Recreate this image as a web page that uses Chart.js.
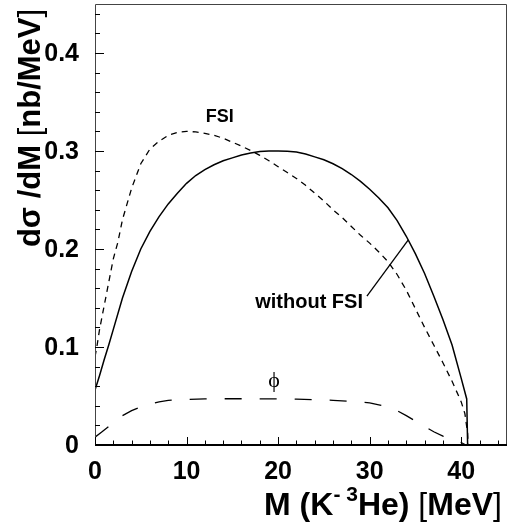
<!DOCTYPE html>
<html>
<head>
<meta charset="utf-8">
<script src="https://cdn.jsdelivr.net/npm/chart.js@4.4.0/dist/chart.umd.min.js"></script>
<style>
  body { margin: 0; background: #fff; }
  #chart { display: block; }
</style>
</head>
<body>
<canvas id="chart" width="515" height="522"></canvas>
<script>
// Curve without final state interaction (solid)
const massNoFsi = [0, 0.5, 1, 1.5, 2, 3, 4, 5, 6, 7, 8, 9, 10, 11, 12, 13, 14, 15, 16, 17, 18, 19, 20,
  21, 22, 23, 24, 25, 26, 27, 28, 29, 30, 31, 32, 33, 34, 35, 36, 37, 38, 39, 40, 40.6, 40.7];
const sigmaNoFsi = [0.056, 0.071, 0.087, 0.102, 0.118, 0.150, 0.177, 0.200, 0.218, 0.233, 0.246, 0.257, 0.267,
  0.275, 0.281, 0.286, 0.290, 0.293, 0.296, 0.298, 0.2995, 0.300, 0.300,
  0.2998, 0.299, 0.297, 0.294, 0.291, 0.287, 0.282, 0.276, 0.269, 0.261, 0.252, 0.242, 0.229, 0.213,
  0.195, 0.175, 0.152, 0.128, 0.102, 0.068, 0.047, 0];

// Curve with FSI (short dashes)
const massFsi = [0, 0.2, 0.5, 1, 1.5, 2, 2.5, 3, 4, 5, 6, 7, 8, 9, 10, 11, 12, 13, 14, 15, 16, 17, 18,
  19, 20, 21, 22, 23, 24, 25, 26, 27, 28, 29, 30, 31, 32, 33, 34, 35, 36, 37, 38, 39, 40, 40.4, 40.7, 40.75];
const sigmaFsi = [0.09, 0.1, 0.118, 0.142, 0.166, 0.19, 0.207, 0.23, 0.262, 0.287, 0.302, 0.31, 0.316, 0.319,
  0.32, 0.3195, 0.318, 0.316, 0.313, 0.309, 0.305, 0.3005, 0.2956, 0.290, 0.284, 0.278, 0.272, 0.265,
  0.257, 0.249, 0.240, 0.232, 0.223, 0.214, 0.206, 0.197, 0.187, 0.174, 0.158, 0.139, 0.12, 0.102,
  0.084, 0.065, 0.044, 0.032, 0.012, 0];

// phi contribution (long dashes)
const massPhi = [0, 0.7, 1.5, 2.4, 3, 4, 5, 6, 7, 8, 9, 10, 12, 14, 16, 18, 20, 22, 24, 26, 28, 30,
  31, 32, 33, 34, 35, 36, 37, 38, 39, 40, 40.5];
const sigmaPhi = [0.008, 0.013, 0.019, 0.025, 0.03, 0.035, 0.039, 0.042, 0.044, 0.0455, 0.046, 0.0465,
  0.047, 0.0472, 0.0472, 0.0471, 0.047, 0.0468, 0.0463, 0.0456, 0.0445, 0.043, 0.041, 0.039, 0.035,
  0.03, 0.0245, 0.019, 0.0135, 0.009, 0.0055, 0.0025, 0];

const xTicks = [0, 10, 20, 30, 40];
const yTicks = [0, 0.1, 0.2, 0.3, 0.4];

const toPoints = (xs, ys) => xs.map((x, i) => ({ x, y: ys[i] }));

const sansBold = (size) => `bold ${size}px "Liberation Sans", Arial, sans-serif`;
const sansNormal = (size) => `${size}px "Liberation Sans", Arial, sans-serif`;

// draw a row of text pieces, each with its own font and raise
function drawPieces(ctx, pieces, cx, baseline) {
  let total = 0;
  pieces.forEach(p => { ctx.font = p.font; p.w = ctx.measureText(p.text).width; total += p.w; });
  let x = cx - total / 2;
  ctx.textAlign = 'left';
  ctx.textBaseline = 'alphabetic';
  pieces.forEach(p => {
    ctx.font = p.font;
    ctx.fillText(p.text, x, baseline - (p.raise || 0));
    x += p.w;
  });
}

const framePlugin = {
  id: 'frame',
  afterDraw(chart) {
    const { ctx, chartArea: a, scales } = chart;
    const xs = scales.x, ys = scales.y;
    ctx.save();

    // frame
    ctx.lineWidth = 1;
    ctx.strokeStyle = '#444';
    ctx.beginPath();
    ctx.moveTo(a.left + 0.5, a.bottom);
    ctx.lineTo(a.left + 0.5, a.top + 0.5);
    ctx.lineTo(a.right - 0.5, a.top + 0.5);
    ctx.lineTo(a.right - 0.5, a.bottom);
    ctx.stroke();
    ctx.strokeStyle = '#000';
    ctx.lineWidth = 2;
    ctx.beginPath();
    ctx.moveTo(a.left, a.bottom);
    ctx.lineTo(a.right, a.bottom);
    ctx.stroke();

    // ticks inside the frame
    ctx.lineWidth = 1;
    ctx.beginPath();
    for (let i = 0; i <= 22; i++) {
      const v = i * 2;
      const px = Math.round(xs.getPixelForValue(v)) + 0.5;
      const len = (v % 10 === 0) ? 8 : 4.5;
      ctx.moveTo(px, a.bottom);
      ctx.lineTo(px, a.bottom - len);
    }
    for (let i = 0; i <= 22; i++) {
      const v = i * 0.02;
      const py = Math.round(ys.getPixelForValue(v)) + 0.5;
      const len = (i % 5 === 0) ? 9 : 5;
      ctx.moveTo(a.left, py);
      ctx.lineTo(a.left + len, py);
    }
    ctx.stroke();

    // annotations
    ctx.fillStyle = '#000';
    ctx.textAlign = 'left';
    ctx.textBaseline = 'alphabetic';
    ctx.font = sansBold(18);
    ctx.fillText('FSI', xs.getPixelForValue(12.1), ys.getPixelForValue(0.3296));
    ctx.font = sansBold(20);
    ctx.fillText('without FSI', xs.getPixelForValue(17.5), ys.getPixelForValue(0.1395));

    ctx.lineWidth = 1.3;
    ctx.beginPath();
    ctx.moveTo(xs.getPixelForValue(29.7), ys.getPixelForValue(0.152));
    ctx.lineTo(xs.getPixelForValue(34.2), ys.getPixelForValue(0.209));
    ctx.stroke();

    ctx.font = '22px "Liberation Serif", "DejaVu Serif", serif';
    ctx.textAlign = 'center';
    ctx.textBaseline = 'middle';
    ctx.fillText('\u03D5', xs.getPixelForValue(19.56), ys.getPixelForValue(0.065));

    // x title
    drawPieces(ctx, [
      { text: 'M (K', font: sansBold(32) },
      { text: '-', font: sansBold(21), raise: 14 },
      { text: ' ', font: sansBold(21) },
      { text: '3', font: sansBold(21), raise: 14 },
      { text: 'He) ', font: sansBold(32) },
      { text: '[', font: sansNormal(32) },
      { text: 'MeV', font: sansBold(32) },
      { text: ']', font: sansNormal(32) }
    ], 383, 515);

    // y title
    ctx.translate(40, 128);
    ctx.rotate(-Math.PI / 2);
    drawPieces(ctx, [
      { text: 'd\u03C3 /dM ', font: sansBold(31) },
      { text: '[', font: sansNormal(31) },
      { text: 'nb/MeV', font: sansBold(31) },
      { text: ']', font: sansNormal(31) }
    ], 0, 0);
    ctx.restore();
  }
};

new Chart(document.getElementById('chart'), {
  type: 'scatter',
  data: {
    datasets: [
      {
        label: 'without FSI',
        data: toPoints(massNoFsi, sigmaNoFsi),
        showLine: true,
        borderColor: '#000',
        borderWidth: 1.5,
        pointRadius: 0,
        tension: 0
      },
      {
        label: 'FSI',
        data: toPoints(massFsi, sigmaFsi),
        showLine: true,
        borderColor: '#000',
        borderWidth: 1.3,
        borderDash: [6, 5],
        pointRadius: 0,
        tension: 0
      },
      {
        label: 'phi',
        data: toPoints(massPhi, sigmaPhi),
        showLine: true,
        borderColor: '#000',
        borderWidth: 1.3,
        borderDash: [17, 18],
        pointRadius: 0,
        tension: 0
      }
    ]
  },
  options: {
    responsive: false,
    animation: false,
    layout: { padding: { top: 4, right: 8, left: 0, bottom: 0 } },
    plugins: { legend: { display: false }, tooltip: { enabled: false } },
    scales: {
      x: {
        type: 'linear',
        min: 0,
        max: 45,
        grid: { display: false },
        border: { display: false },
        afterFit: (s) => { s.height = 77; s.paddingLeft = 0; s.paddingRight = 0; },
        afterBuildTicks: (s) => { s.ticks = xTicks.map(v => ({ value: v })); },
        ticks: {
          color: '#000',
          padding: 4,
          maxRotation: 0,
          font: { family: '"Liberation Sans", Arial, sans-serif', size: 25, weight: 'bold' },
          callback: (v) => String(v)
        }
      },
      y: {
        type: 'linear',
        min: 0,
        max: 0.45,
        grid: { display: false },
        border: { display: false },
        afterFit: (s) => { s.width = 95; s.paddingTop = 0; s.paddingBottom = 0; },
        afterBuildTicks: (s) => { s.ticks = yTicks.map(v => ({ value: v })); },
        ticks: {
          color: '#000',
          padding: 8,
          labelOffset: 1,
          font: { family: '"Liberation Sans", Arial, sans-serif', size: 25, weight: 'bold' },
          callback: (v) => v === 0 ? '0' : v.toFixed(1)
        }
      }
    }
  },
  plugins: [framePlugin]
});
</script>
</body>
</html>
